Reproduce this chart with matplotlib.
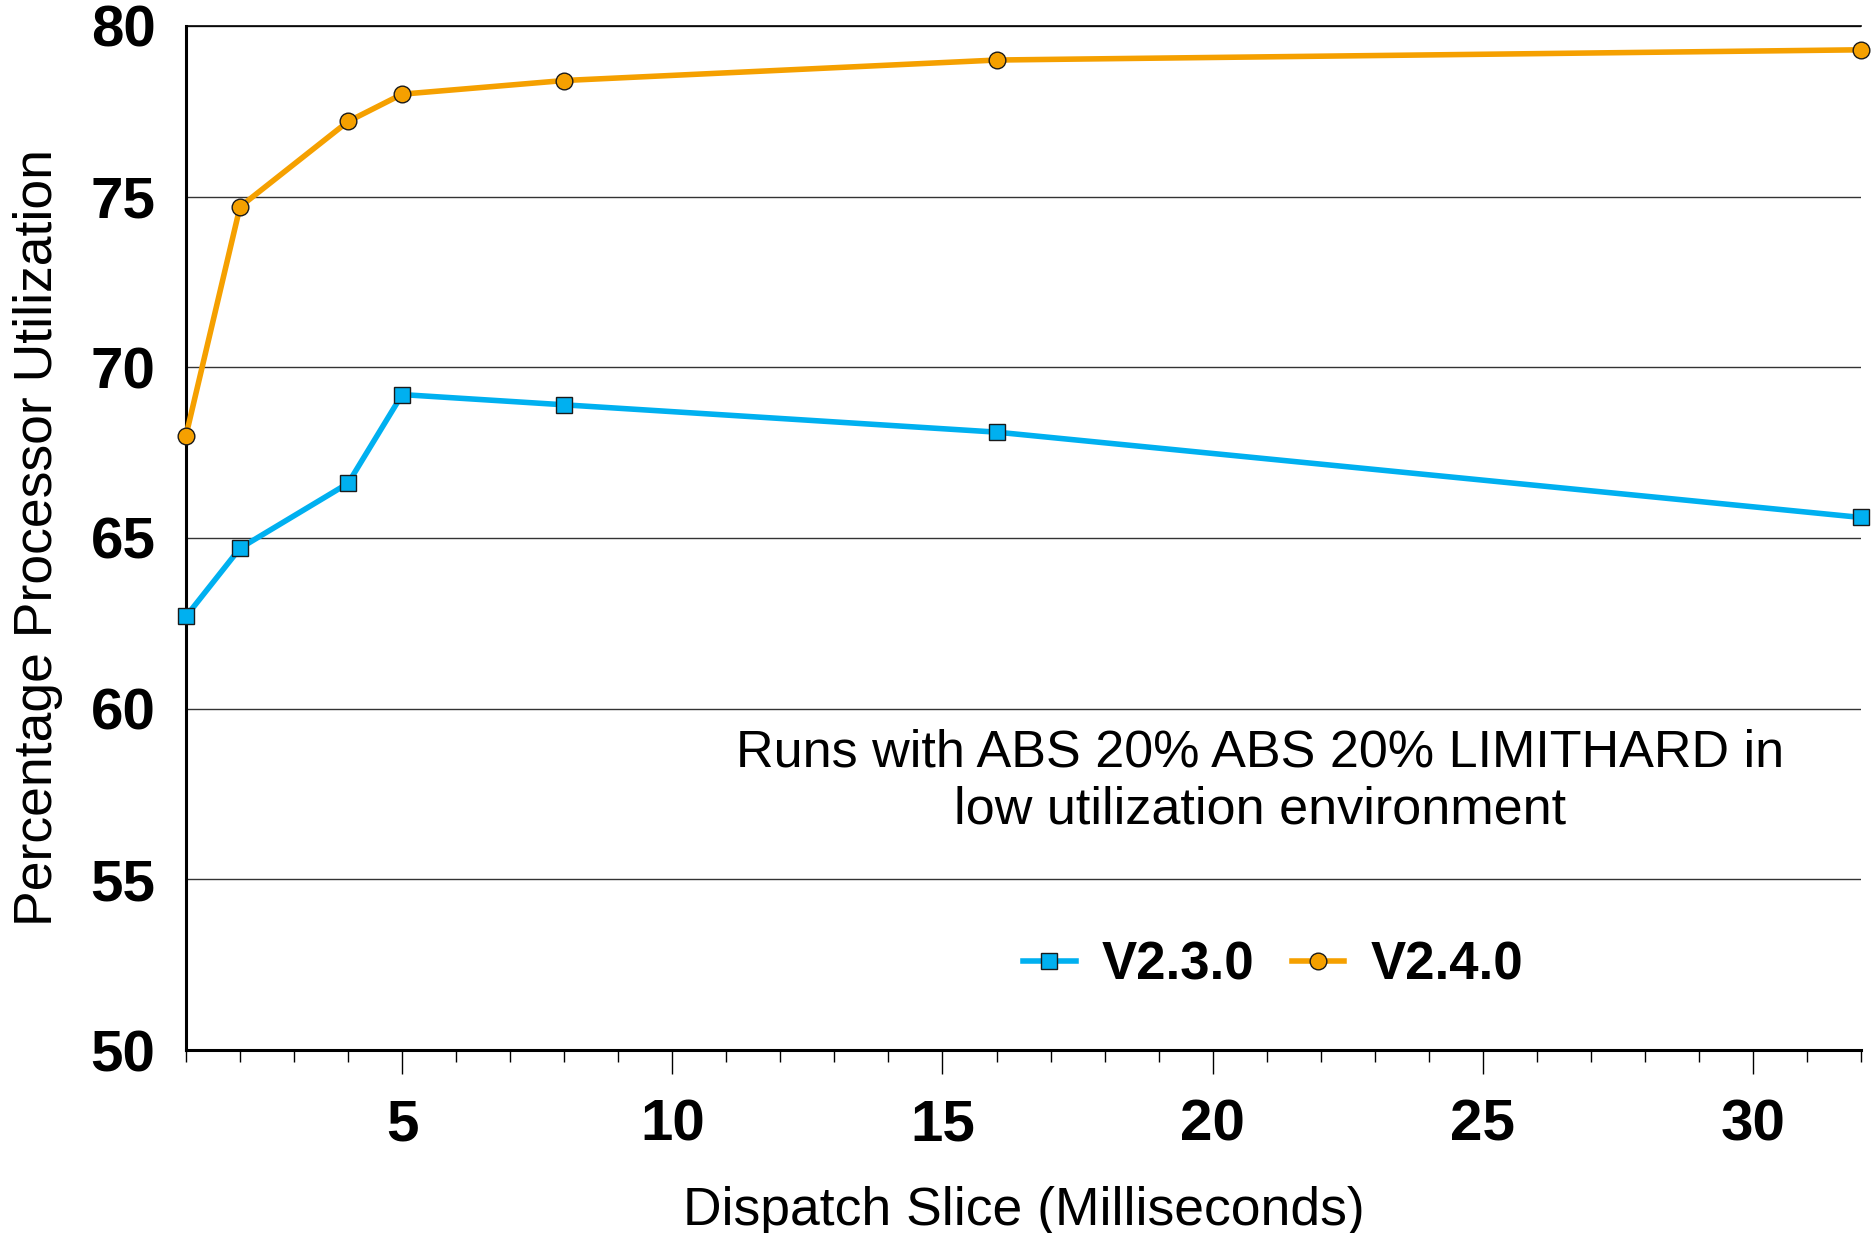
import matplotlib
matplotlib.use("Agg")
import matplotlib.pyplot as plt
from matplotlib.ticker import MultipleLocator, FixedLocator

plt.rcParams['font.family'] = ['Liberation Sans', 'DejaVu Sans']

slices = [1, 2, 4, 5, 8, 16, 32]
v230 = [62.7, 64.7, 66.6, 69.2, 68.9, 68.1, 65.6]
v240 = [68.0, 74.7, 77.2, 78.0, 78.4, 79.0, 79.3]
series_names = ["V2.3.0", "V2.4.0"]
x_ticks = [5, 10, 15, 20, 25, 30]
y_ticks = [50, 55, 60, 65, 70, 75, 80]
note = "Runs with ABS 20% ABS 20% LIMITHARD in\nlow utilization environment"

fig = plt.figure(figsize=(18.71, 12.33), dpi=100)
ax = fig.add_axes([0.0994, 0.1484, 0.8953, 0.8306])

blue = "#00B0F0"
orange = "#F5A000"
ax.plot(slices, v230, color=blue, lw=4.0, marker='s', ms=12, mfc=blue,
        mec="#1a1a1a", mew=1.0, label=series_names[0], clip_on=False, zorder=4)
ax.plot(slices, v240, color=orange, lw=4.0, marker='o', ms=12, mfc=orange,
        mec="#1a1a1a", mew=1.0, label=series_names[1], clip_on=False, zorder=4)

ax.set_xlim(1, 32)
ax.set_ylim(50, 80)
ax.xaxis.set_major_locator(FixedLocator(x_ticks))
ax.xaxis.set_minor_locator(MultipleLocator(1))
ax.yaxis.set_major_locator(FixedLocator(y_ticks))

ax.grid(axis='y', color='#333333', lw=1.0)
ax.set_axisbelow(True)
for s in ['left', 'bottom']:
    ax.spines[s].set_linewidth(2.2)
ax.spines['top'].set_linewidth(1.2)
ax.spines['right'].set_visible(False)

ax.tick_params(axis='x', which='major', length=17, width=1.0, direction='out',
               labelsize=42, pad=18)
ax.tick_params(axis='x', which='minor', length=8.6, width=1.0, direction='out')
ax.tick_params(axis='y', which='major', length=0, labelsize=42, pad=22)
for lab in ax.get_xticklabels() + ax.get_yticklabels():
    lab.set_fontweight('bold')

ax.set_xlabel("Dispatch Slice (Milliseconds)", fontsize=38.5, labelpad=24)
ax.set_ylabel("Percentage Processor Utilization", fontsize=38.5, labelpad=20)

ax.text(0.641, 0.262, note, transform=ax.transAxes, ha='center', va='center',
        fontsize=37.5, linespacing=1.2)

leg = ax.legend(loc='center', bbox_to_anchor=(0.649, 0.083), ncol=2, frameon=False,
                prop={'weight': 'bold', 'size': 38}, handlelength=1.0,
                columnspacing=0.7, handletextpad=0.5)

fig.savefig("out.png", dpi=100)
